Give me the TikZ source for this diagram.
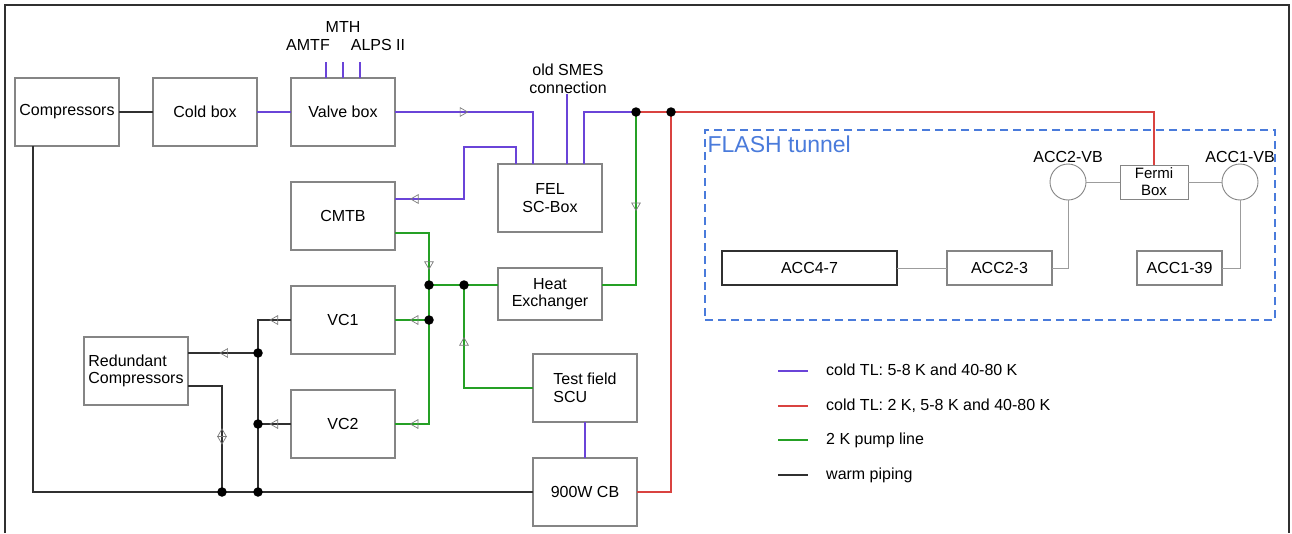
\documentclass[tikz,border=0pt]{standalone}
\usepackage{fontspec}
\setmainfont{Liberation Sans}
\usetikzlibrary{arrows.meta,positioning,shapes.geometric}
\definecolor{coldline}{HTML}{6A44D8}
\definecolor{hotline}{HTML}{D94340}
\definecolor{pumpline}{HTML}{25A025}
\definecolor{warmline}{HTML}{303030}
\definecolor{boxgrey}{HTML}{858585}
\definecolor{markgrey}{HTML}{7A7A7A}
\definecolor{tunnelgrey}{HTML}{9C9C9C}
\definecolor{tunnelblue}{HTML}{4A7BDB}

\begin{document}
\begin{tikzpicture}[x=1pt,y=-1pt,node distance=36pt and 34pt, every node/.style={font=\fontsize{16}{17.5}\selectfont}, box/.style={draw=boxgrey,line width=1.1pt,minimum width=104pt,minimum height=68pt,inner sep=1pt,outer sep=0pt,align=center}, accbox/.style={draw=boxgrey,line width=1.1pt,minimum height=34pt,inner sep=1pt,outer sep=0pt}, vb/.style={circle,draw=boxgrey,line width=.9pt,minimum size=36pt,inner sep=0pt,outer sep=0pt}, dot/.style={circle,fill=black,inner sep=0pt,minimum size=9.5pt}, tri/.style={isosceles triangle,isosceles triangle apex angle=60,draw=markgrey,line width=.7pt,inner sep=0pt,minimum height=7.5pt,sloped,allow upside down}, trirev/.style={tri,shape border rotate=180}, cold/.style={draw=coldline,line width=2pt}, hot/.style={draw=hotline,line width=2pt}, pump/.style={draw=pumpline,line width=2pt}, warm/.style={draw=warmline,line width=2pt}, tun/.style={draw=tunnelgrey,line width=1pt}, lbl/.style={inner sep=0pt,align=center}, legtxt/.style={anchor=west,inner sep=0pt,text height=12pt,text depth=3pt}]
\useasboundingbox (0,0) rectangle (1292,533);
\draw[warmline,line width=1.2pt] (5,533) -- (5,5) -- (1289,5) -- (1289,533);
% plant
\node[box] (comp) at (67,112) {Compressors};
\node[box,right=of comp] (cold) {Cold box};
\node[box,right=of cold] (valve) {Valve box};
\node[box,below=of valve] (cmtb) {CMTB};
\node[box,below=of cmtb] (vc1) {VC1};
\node[box,below=of vc1] (vc2) {VC2};
\node[box,align=left] (red) at (136,371) {Redundant\\Compressors};
\node[box] (fel) at (550,198) {FEL\\SC-Box};
\node[box,minimum height=52pt] (hx) at (550,294) {Heat\\Exchanger};
\node[box,align=left] (scu) at (585,388) {Test field\\SCU};
\node[box,below=of scu] (cb) {900W CB};
\node[lbl] (mth) at (343,27) {MTH};
\node[lbl] (amtf) at (308,45) {AMTF};
\node[lbl] (alps) at (378,45) {ALPS II};
\node[lbl] (smes) at (568,79) {old SMES\\connection};
% FLASH tunnel
\node[draw=tunnelblue,dash pattern=on 8pt off 5pt,line width=1.2pt,minimum width=570pt,minimum height=190pt] (tunnel) at (990,225) {};
\node[anchor=north west,text=tunnelblue,font=\fontsize{23}{26}\selectfont,inner sep=3pt,yshift=-3pt] (flash) at (tunnel.north west) {FLASH tunnel};
\node[vb,label={[lbl,label distance=1pt]above:ACC2-VB}] (vb2) at (1068,182) {};
\node[draw=boxgrey,line width=1pt,minimum width=68pt,minimum height=34pt,inner sep=0pt,outer sep=0pt,align=center,font=\fontsize{15}{17}\selectfont] (fermi) at (1154,182) {Fermi\\Box};
\node[vb,label={[lbl,label distance=1pt]above:ACC1-VB}] (vb1) at (1240,182) {};
\node[accbox,draw=warmline,minimum width=175pt] (acc47) at (809.5,268) {ACC4-7};
\node[accbox,minimum width=105pt] (acc23) at (999.5,268) {ACC2-3};
\node[accbox,minimum width=85pt] (acc139) at (1179.5,268) {ACC1-39};
\draw[tun] (acc47) -- (acc23);\draw[tun] (acc23.east) -| (vb2.south);\draw[tun] (vb2) -- (fermi);\draw[tun] (fermi) -- (vb1);\draw[tun] (vb1.south) |- (acc139.east);
% ports and junctions
\coordinate (fp1) at ([xshift=18pt]fel.north west);
\coordinate (fp2) at ([xshift=35pt]fel.north west);
\coordinate (fp3) at ([xshift=69pt]fel.north west);
\coordinate (fp4) at ([xshift=86pt]fel.north west);
\coordinate (cmtbin) at ([yshift=-17pt]cmtb.north east);
\coordinate (cmtbout) at ([yshift=-51pt]cmtb.north east);
\coordinate (hxE) at ([yshift=-17pt]hx.north east);
\coordinate (hxW) at ([yshift=-17pt]hx.north west);
\coordinate (redA) at ([yshift=-16pt]red.north east);
\coordinate (redB) at ([yshift=-49pt]red.north east);
\coordinate (j1) at (636,112);\coordinate (j2) at (671,112);
\coordinate (j3) at (464,285);\coordinate (j4) at (429,285);\coordinate (j5) at (429,320);
\coordinate (j6) at (222,492);\coordinate (j7) at (258,492);\coordinate (j8) at (258,353);\coordinate (j9) at (258,424);
% cold TL
\draw[cold] (cold) -- (valve);
\foreach \dx in {-17,0,17} \draw[cold] ([xshift=\dx pt]valve.north) -- ++(0,-16);
\draw[cold] (valve.east) -| node[tri,pos=.245]{} (fp2);
\draw[cold] (fp1) -- ++(0,-17) -- ++(-52,0) |- node[tri,pos=.85]{} (cmtbin);
\draw[cold] (fp3) -- (fp3 |- smes.south);
\draw[cold] (fp4) |- (j1);
\draw[cold] (scu) -- (cb);
\draw[hot] (j1) -- (j2) -| (fermi.north);
\draw[hot] (cb.east) -| (j2);
% pump line
\draw[pump] (j1) |- node[tri,pos=.27]{} (hxE);
\draw[pump] (hxW) -- (j4);
\draw[pump] (scu.west) -| node[tri,pos=.72]{} (j3);
\draw[pump] (cmtbout) -| node[tri,pos=.8]{} (j4);
\draw[pump] (j5) -- node[tri,pos=.4]{} (vc1.east);
\draw[pump] (j4) -- (j5) |- node[tri,pos=.7]{} (vc2.east);
% warm piping
\draw[warm] (comp) -- (cold);
\draw[warm] ([xshift=18pt]comp.south west) |- (cb.west);
\draw[warm] (vc1.west) -| node[tri,pos=.24]{} (j7);
\draw[warm] (j8) -- node[tri,pos=.47]{} (redA);
\draw[warm] (vc2.west) -- node[tri,pos=.48]{} (j9);
\draw[warm] (redB) -| node[trirev,pos=.726]{} node[tri,pos=.75]{} (j6);
\foreach \j in {j1,j2,j3,j4,j5,j6,j7,j8,j9} \node[dot] at (\j) {};
% legend
\node[legtxt] (leg1) at (826,371) {cold TL: 5-8 K and 40-80 K};
\node[legtxt] (leg2) at (826,406) {cold TL: 2 K, 5-8 K and 40-80 K};
\node[legtxt] (leg3) at (826,440) {2 K pump line};
\node[legtxt] (leg4) at (826,475) {warm piping};
\draw[cold] ([xshift=-48pt]leg1.west) -- ([xshift=-18pt]leg1.west);
\draw[hot] ([xshift=-48pt]leg2.west) -- ([xshift=-18pt]leg2.west);
\draw[pump] ([xshift=-48pt]leg3.west) -- ([xshift=-18pt]leg3.west);
\draw[warm] ([xshift=-48pt]leg4.west) -- ([xshift=-18pt]leg4.west);
\end{tikzpicture}
\end{document}
